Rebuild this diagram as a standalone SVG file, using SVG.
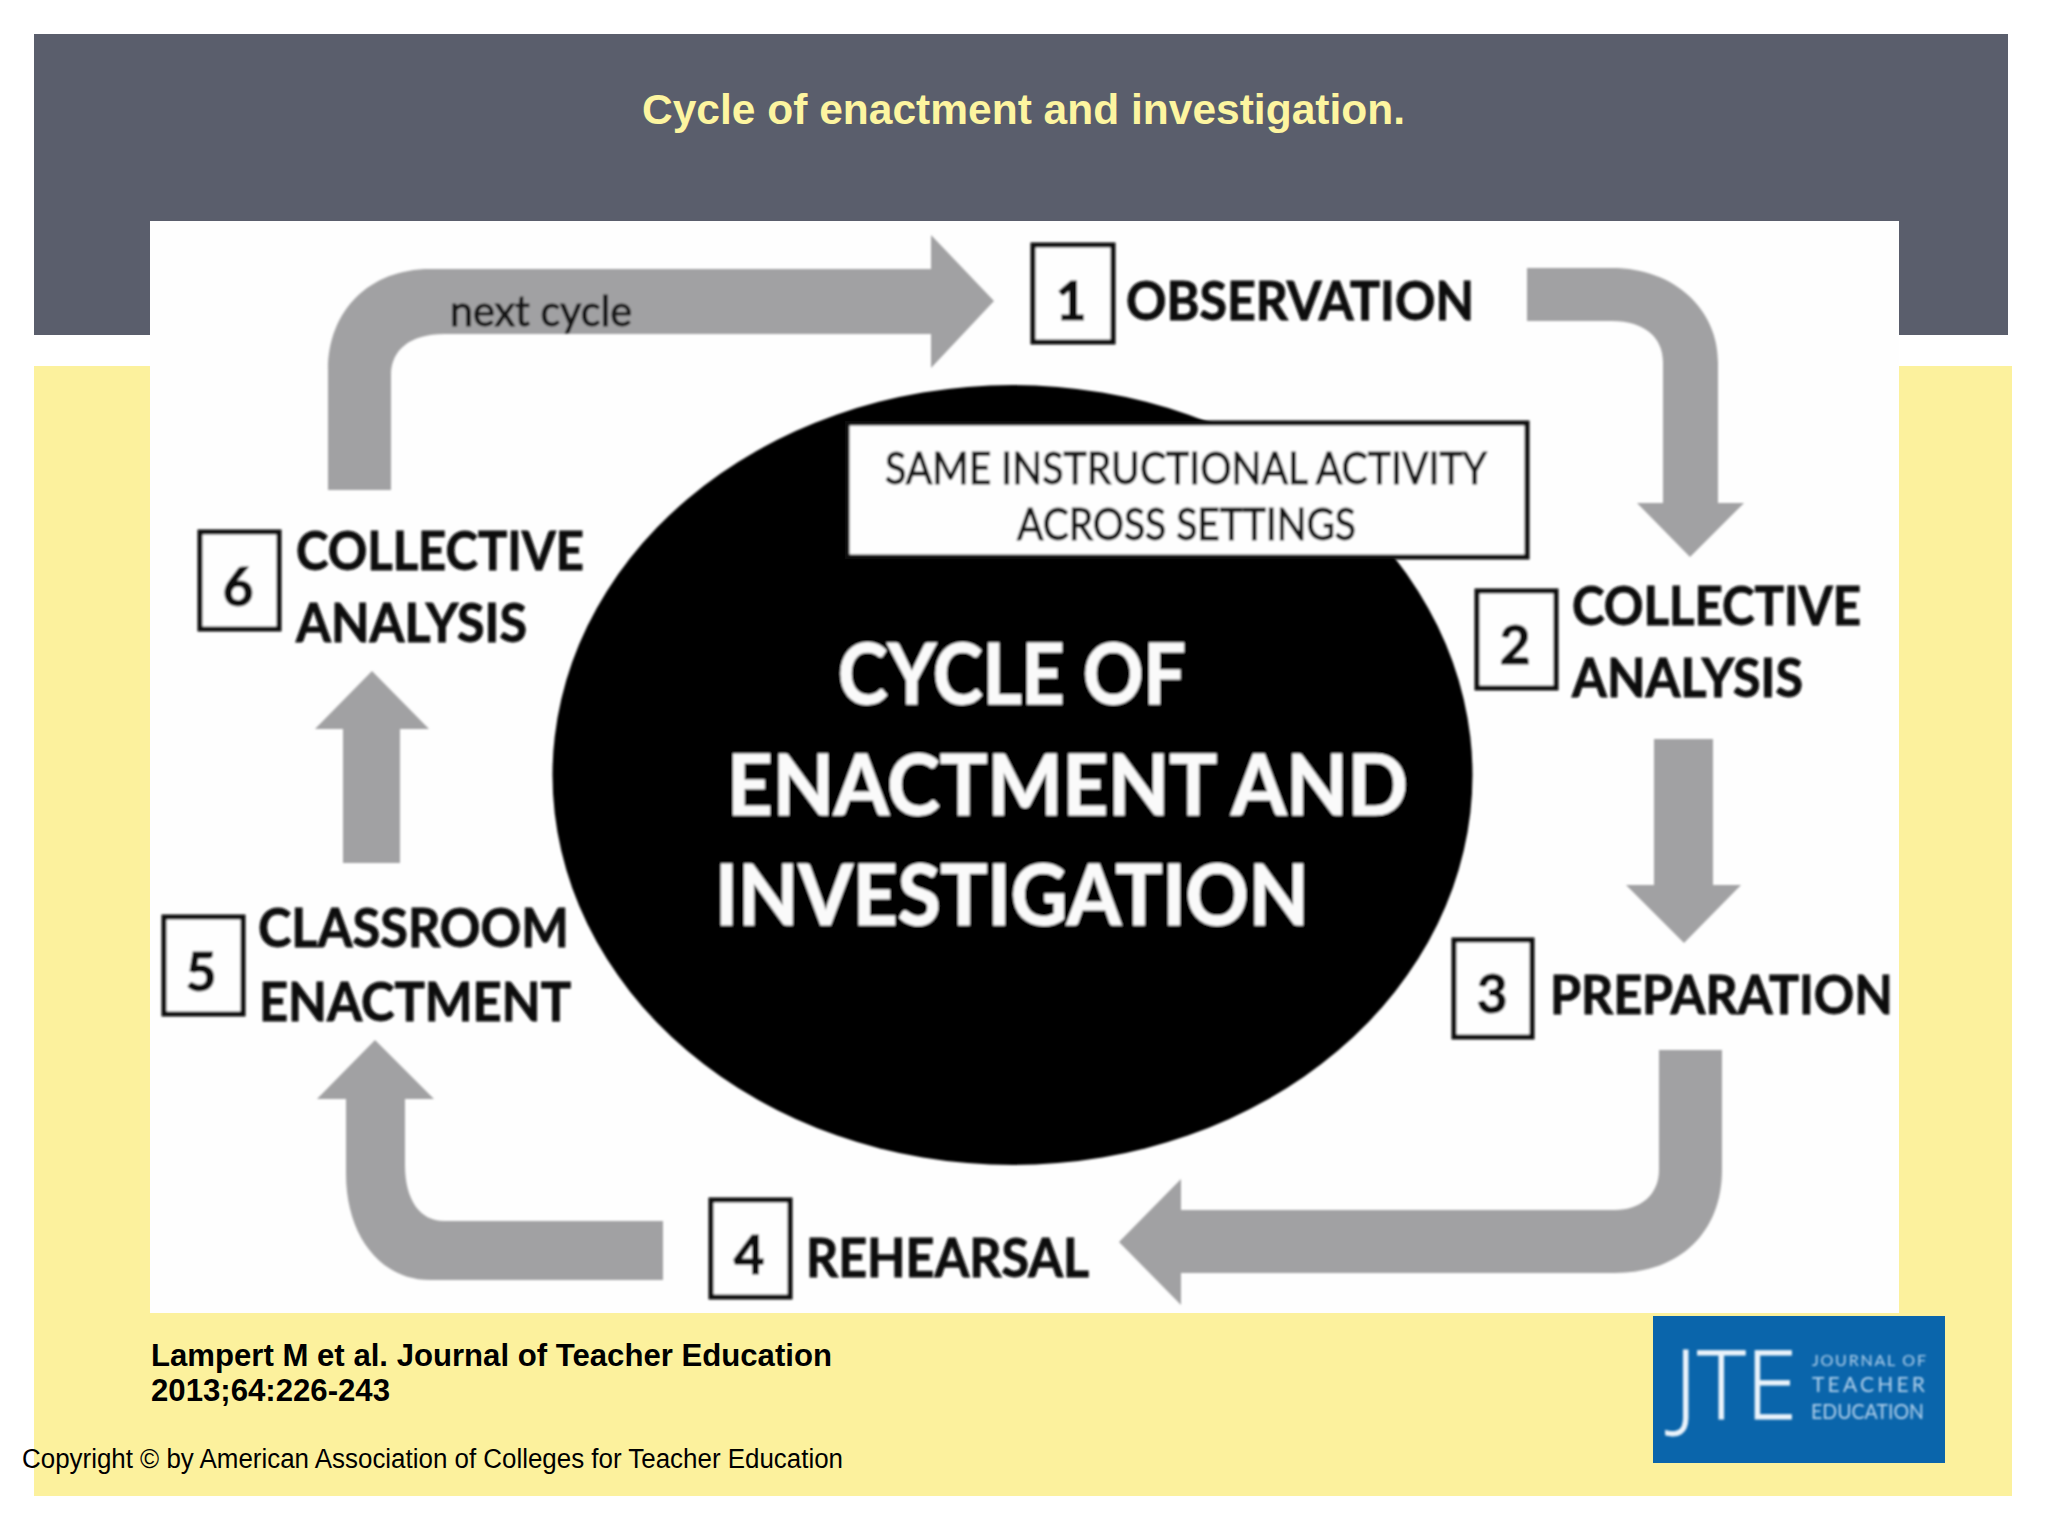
<svg xmlns="http://www.w3.org/2000/svg" width="2048" height="1536" viewBox="0 0 2048 1536">
<style>
.lb{font-family:"Lato","Liberation Sans",sans-serif;font-weight:700;font-size:53px;fill:#0c0c0c;stroke:#0c0c0c;stroke-width:.9}
.nb{font-family:"Lato","Liberation Sans",sans-serif;font-weight:700;font-size:53px;fill:#0c0c0c;stroke:#0c0c0c;stroke-width:1.2;text-anchor:middle}
.big{font-family:"Lato","Liberation Sans",sans-serif;font-weight:700;font-size:84px;fill:#fafafa;stroke:#fafafa;stroke-width:1}
.sm{font-family:"Lato","Liberation Sans",sans-serif;font-weight:400;font-size:44px;fill:#151515;stroke:#151515;stroke-width:1}
.ar{font-family:"Liberation Sans",Arial,sans-serif}
.box{fill:#fefefe;stroke:#0c0c0c;stroke-width:5}
.arrow{fill:#a1a1a3}
.logo{font-family:"Lato","Liberation Sans",sans-serif;fill:#b4d2ec}
.soft{filter:url(#soft)}
</style>
<defs><filter id="soft" x="-5%" y="-5%" width="110%" height="110%"><feGaussianBlur stdDeviation="0.8"/></filter></defs>
<rect width="2048" height="1536" fill="#fff"/>
<rect x="34" y="34" width="1974" height="301" fill="#5a5e6c"/>
<rect x="34" y="366" width="1978" height="1130" fill="#fcf19d"/>
<rect x="150" y="221" width="1749" height="1092" fill="#fefefe"/>
<text id="title" class="ar" x="642" y="124" font-size="43" font-weight="700" fill="#fdf5a0" textLength="763" lengthAdjust="spacingAndGlyphs">Cycle of enactment and investigation.</text>

<g id="center" class="soft">
<ellipse cx="1012.5" cy="775" rx="460" ry="390" fill="#000"/>
<text class="big" x="838" y="704" textLength="348" lengthAdjust="spacingAndGlyphs">CYCLE OF</text>
<text class="big" x="727" y="815" textLength="681" lengthAdjust="spacingAndGlyphs">ENACTMENT AND</text>
<text class="big" x="715" y="925" textLength="594" lengthAdjust="spacingAndGlyphs">INVESTIGATION</text>
</g>
<g id="activity" class="soft">
<rect x="847" y="423" width="680" height="134" fill="#fefefe" stroke="#0c0c0c" stroke-width="5"/>
<text class="sm" x="885" y="484" textLength="602" lengthAdjust="spacingAndGlyphs">SAME INSTRUCTIONAL ACTIVITY</text>
<text class="sm" x="1017" y="540" textLength="339" lengthAdjust="spacingAndGlyphs">ACROSS SETTINGS</text>
</g>

<g id="connectors" class="soft">
<path class="arrow" d="M328 490V370C328 310 370 269 430 269H931V235L994 301L931 368V334H444C410 334 391 350 391 375V490Z"/>
<text class="sm" x="450" y="326" textLength="182" lengthAdjust="spacingAndGlyphs" style="font-size:42px">next cycle</text>
<path class="arrow" d="M1527 268H1612C1675 268 1718 310 1718 362V503H1744L1690 557L1637 503H1663V362C1663 338 1645 321 1612 321H1527Z"/>
<path class="arrow" d="M1654 739H1713V885H1741L1684 943L1626 885H1654Z"/>
<path class="arrow" d="M1659 1050H1722V1170C1722 1232 1680 1273 1615 1273H1181V1305L1119 1242L1181 1179V1210H1615C1640 1210 1659 1195 1659 1170Z"/>
<path class="arrow" d="M663 1221V1280H430C380 1280 346 1235 346 1174V1099H317L375 1040L434 1099H405V1165C405 1200 420 1221 444 1221Z"/>
<path class="arrow" d="M343 863V729H315L372 671L429 729H400V863Z"/>
</g>

<g id="step1" class="soft">
<rect class="box" x="1033" y="245" width="80" height="97"/>
<text class="nb" x="1071" y="320">1</text>
<text class="lb" x="1126" y="320" textLength="348" lengthAdjust="spacingAndGlyphs">OBSERVATION</text>
</g>
<g id="step2" class="soft">
<rect class="box" x="1477" y="591" width="79" height="97"/>
<text class="nb" x="1515" y="664">2</text>
<text class="lb" x="1572" y="625" textLength="289" lengthAdjust="spacingAndGlyphs">COLLECTIVE</text>
<text class="lb" x="1572" y="697" textLength="231" lengthAdjust="spacingAndGlyphs">ANALYSIS</text>
</g>
<g id="step3" class="soft">
<rect class="box" x="1454" y="940" width="78" height="97"/>
<text class="nb" x="1492" y="1013">3</text>
<text class="lb" x="1550" y="1014" textLength="343" lengthAdjust="spacingAndGlyphs">PREPARATION</text>
</g>
<g id="step4" class="soft">
<rect class="box" x="711" y="1200" width="79" height="97"/>
<text class="nb" x="749" y="1274">4</text>
<text class="lb" x="806" y="1277" textLength="283" lengthAdjust="spacingAndGlyphs">REHEARSAL</text>
</g>
<g id="step5" class="soft">
<rect class="box" x="164" y="917" width="79" height="97"/>
<text class="nb" x="201" y="991">5</text>
<text class="lb" x="258" y="947" textLength="311" lengthAdjust="spacingAndGlyphs">CLASSROOM</text>
<text class="lb" x="259" y="1021" textLength="312" lengthAdjust="spacingAndGlyphs">ENACTMENT</text>
</g>
<g id="step6" class="soft">
<rect class="box" x="200" y="532" width="79" height="97"/>
<text class="nb" x="238" y="606">6</text>
<text class="lb" x="296" y="570" textLength="288" lengthAdjust="spacingAndGlyphs">COLLECTIVE</text>
<text class="lb" x="296" y="642" textLength="231" lengthAdjust="spacingAndGlyphs">ANALYSIS</text>
</g>

<g id="citation" class="ar" fill="#000">
<text x="151" y="1366" font-size="31.5" font-weight="700" textLength="681" lengthAdjust="spacingAndGlyphs">Lampert M et al. Journal of Teacher Education</text>
<text x="151" y="1401" font-size="31.5" font-weight="700" textLength="239" lengthAdjust="spacingAndGlyphs">2013;64:226-243</text>
<text x="22" y="1468" font-size="27" textLength="821" lengthAdjust="spacingAndGlyphs">Copyright © by American Association of Colleges for Teacher Education</text>
</g>

<g id="logo">
<rect x="1653" y="1316" width="292" height="147" fill="#0a65ab"/>
<g class="soft">
<text x="1674" y="1419" font-family="'Open Sans','Noto Sans',sans-serif" font-weight="300" font-size="96" fill="#eaf3fb" stroke="#eaf3fb" stroke-width=".8" textLength="123" lengthAdjust="spacingAndGlyphs">JTE</text>
<text class="logo" x="1812" y="1366" font-size="16" textLength="114">JOURNAL OF</text>
<text class="logo" x="1812" y="1392" font-size="21" textLength="113">TEACHER</text>
<text class="logo" x="1811" y="1419" font-size="21" textLength="113" lengthAdjust="spacingAndGlyphs">EDUCATION</text>
</g>
</g>
</svg>
